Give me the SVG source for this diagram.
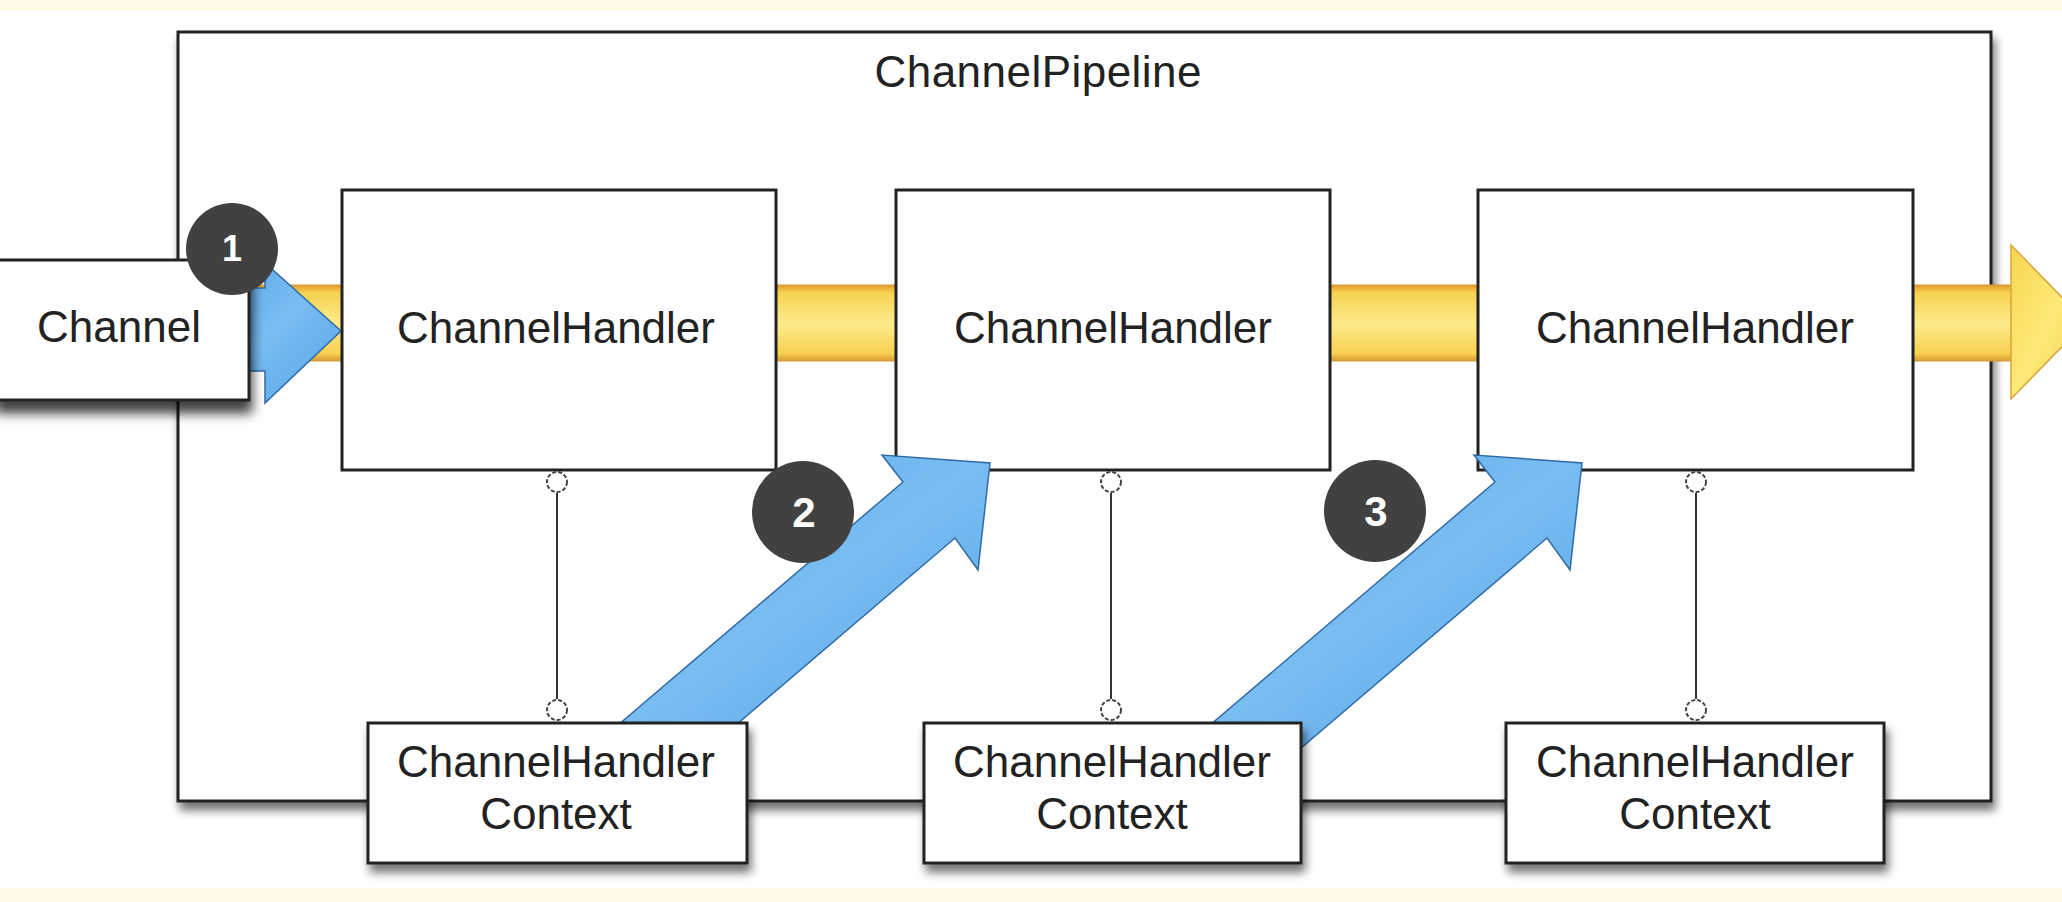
<svg xmlns="http://www.w3.org/2000/svg" width="2062" height="902" viewBox="0 0 2062 902">
<defs>
<style>
.box{fill:#ffffff;stroke:#222222;stroke-width:3}
.lbl{font-family:"Liberation Sans",Arial,Helvetica,sans-serif;font-size:44px;fill:#222222;text-anchor:middle}
.badge{fill:#414141}
.num{font-family:"Liberation Sans",Arial,Helvetica,sans-serif;font-weight:bold;fill:#ffffff;text-anchor:middle}
.blue{fill:url(#bg);stroke:#2f6aa8;stroke-width:1.5;stroke-linejoin:miter}
.link{stroke:#333333;stroke-width:2;fill:none}
.lolly{fill:#ffffff;stroke:#444444;stroke-width:2;stroke-dasharray:4 2}
</style>
<linearGradient id="yg" x1="0" y1="0" x2="0" y2="1">
<stop offset="0" stop-color="#e39a2c"/>
<stop offset="0.1" stop-color="#f7d151"/>
<stop offset="0.5" stop-color="#fdeb8c"/>
<stop offset="0.9" stop-color="#f7d151"/>
<stop offset="1" stop-color="#d99a35"/>
</linearGradient>
<linearGradient id="yh" x1="0" y1="0" x2="1" y2="1">
<stop offset="0" stop-color="#f8d651"/>
<stop offset="0.5" stop-color="#fde978"/>
<stop offset="1" stop-color="#f5cf4f"/>
</linearGradient>
<linearGradient id="bg" x1="0" y1="0" x2="1" y2="1">
<stop offset="0" stop-color="#58a5e6"/>
<stop offset="0.5" stop-color="#79bdf2"/>
<stop offset="1" stop-color="#56a3e4"/>
</linearGradient>
<filter id="sh" x="-10%" y="-10%" width="125%" height="140%">
<feGaussianBlur in="SourceAlpha" stdDeviation="5"/>
<feOffset dx="3" dy="8" result="o"/>
<feComponentTransfer><feFuncA type="linear" slope="0.55"/></feComponentTransfer>
<feMerge><feMergeNode/><feMergeNode in="SourceGraphic"/></feMerge>
</filter>
<filter id="shd" x="-10%" y="-10%" width="125%" height="160%">
<feGaussianBlur in="SourceAlpha" stdDeviation="6"/>
<feOffset dx="2" dy="12"/>
<feComponentTransfer><feFuncA type="linear" slope="0.75"/></feComponentTransfer>
<feMerge><feMergeNode/><feMergeNode in="SourceGraphic"/></feMerge>
</filter>
</defs>

<rect x="0" y="0" width="2062" height="902" fill="#fdfaea"/>
<rect x="0" y="11" width="2062" height="877" fill="#ffffff"/>

<g id="pipeline">
<rect class="box" x="178" y="32" width="1813" height="769" filter="url(#sh)"/>
<text class="lbl" x="1038" y="87" textLength="327">ChannelPipeline</text>
</g>

<g id="flow-main">
<rect x="200" y="285" width="1812" height="76" fill="url(#yg)" stroke="#d59a3a" stroke-width="1"/>
<polygon points="2011,245 2086,322 2011,399 2011,361 2011,285" fill="url(#yh)" stroke="#d9a53a" stroke-width="1.5"/>
</g>

<g id="flow-1">
<polygon class="blue" points="200,288 265,288 265,263 341,331 265,403 265,371 200,371"/>
</g>

<g id="channel">
<rect class="box" x="-6" y="260" width="255" height="140" filter="url(#shd)"/>
<text class="lbl" x="119" y="342">Channel</text>
</g>

<g id="handler1">
<rect class="box" x="342" y="190" width="434" height="280"/>
<text class="lbl" x="556" y="343">ChannelHandler</text>
</g>
<g id="handler2">
<rect class="box" x="896" y="190" width="434" height="280"/>
<text class="lbl" x="1113" y="343">ChannelHandler</text>
</g>
<g id="handler3">
<rect class="box" x="1478" y="190" width="435" height="280"/>
<text class="lbl" x="1695" y="343">ChannelHandler</text>
</g>

<g id="connectors">
<line class="link" x1="557" y1="493" x2="557" y2="699"/>
<circle class="lolly" cx="557" cy="482" r="10"/>
<circle class="lolly" cx="557" cy="710" r="10"/>
<line class="link" x1="1111" y1="493" x2="1111" y2="699"/>
<circle class="lolly" cx="1111" cy="482" r="10"/>
<circle class="lolly" cx="1111" cy="710" r="10"/>
<line class="link" x1="1696" y1="493" x2="1696" y2="699"/>
<circle class="lolly" cx="1696" cy="482" r="10"/>
<circle class="lolly" cx="1696" cy="710" r="10"/>
</g>

<g id="flow-2">
<polygon class="blue" points="577,760 903,482 882,455 990,463 978,570 955,538 695,760"/>
</g>
<g id="flow-3">
<polygon class="blue" points="1169,760 1495,482 1474,455 1582,463 1570,570 1547,538 1287,760"/>
</g>

<g id="context1">
<rect class="box" x="368" y="723" width="379" height="140" filter="url(#sh)"/>
<text class="lbl" x="556" y="777">ChannelHandler</text>
<text class="lbl" x="556" y="829">Context</text>
</g>
<g id="context2">
<rect class="box" x="924" y="723" width="377" height="140" filter="url(#sh)"/>
<text class="lbl" x="1112" y="777">ChannelHandler</text>
<text class="lbl" x="1112" y="829">Context</text>
</g>
<g id="context3">
<rect class="box" x="1506" y="723" width="378" height="140" filter="url(#sh)"/>
<text class="lbl" x="1695" y="777">ChannelHandler</text>
<text class="lbl" x="1695" y="829">Context</text>
</g>

<g id="badge1">
<circle class="badge" cx="232" cy="249" r="46"/>
<text class="num" x="232" y="261" style="font-size:36px">1</text>
</g>
<g id="badge2">
<circle class="badge" cx="803" cy="512" r="51"/>
<text class="num" x="804" y="527" style="font-size:42px">2</text>
</g>
<g id="badge3">
<circle class="badge" cx="1375" cy="511" r="51"/>
<text class="num" x="1376" y="526" style="font-size:42px">3</text>
</g>
</svg>
